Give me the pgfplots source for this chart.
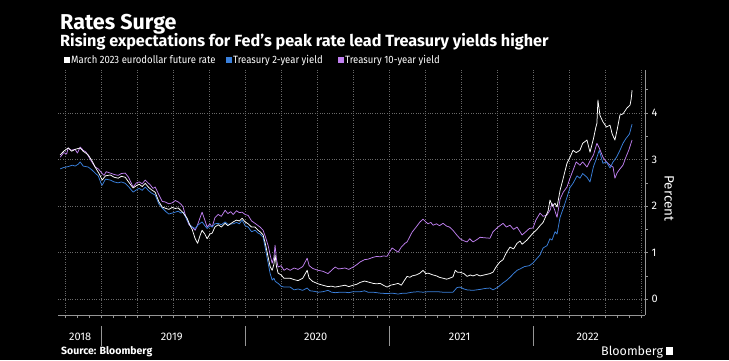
\documentclass[border=0pt]{standalone}
\usepackage{pgfplots}
\pgfplotsset{compat=1.18}
\usepackage{fontspec}
\setmainfont{Fira Sans}
\definecolor{tblue}{RGB}{58,128,220}
\definecolor{tpurple}{RGB}{192,128,240}
\definecolor{gridc}{RGB}{105,105,105}
\definecolor{axisc}{RGB}{150,150,150}
\begin{document}
\begin{tikzpicture}
\fill[black,use as bounding box] (0pt,0pt) rectangle (729pt,360pt);
% titles
\node[anchor=base west,inner sep=0,white,font=\bfseries\fontsize{21.5}{24}\selectfont] at (60pt,331pt) {Rates Surge};
\node[anchor=base west,inner sep=0,white,font=\bfseries\fontsize{16.2}{18}\selectfont] at (60pt,314pt) {Rising expectations for Fed's peak rate lead Treasury yields higher};
% legend
\node[anchor=base west,inner sep=0,white,font=\fontsize{10.6}{12}\selectfont] at (64pt,297pt) {\scalebox{0.9}[1]{\textcolor{white}{\rule{6pt}{6pt}}\,March 2023 eurodollar future rate}};
\node[anchor=base west,inner sep=0,white,font=\fontsize{10.6}{12}\selectfont] at (226pt,297pt) {\scalebox{0.9}[1]{\textcolor{tblue}{\rule{6pt}{6pt}}\,Treasury 2-year yield}};
\node[anchor=base west,inner sep=0,white,font=\fontsize{10.6}{12}\selectfont] at (338pt,297pt) {\scalebox{0.9}[1]{\textcolor{tpurple}{\rule{6pt}{6pt}}\,Treasury 10-year yield}};
% footer
\node[anchor=base west,inner sep=0,white,font=\bfseries\fontsize{10.5}{12}\selectfont] at (61pt,6pt) {Source: Bloomberg};
\node[anchor=base west,inner sep=0,white,font=\fontsize{12.5}{14}\selectfont] at (601pt,5pt) {Bloomberg \textcolor{white}{\rule{7pt}{8pt}}};
\begin{axis}[
  at={(58pt,45pt)}, anchor=south west,
  scale only axis, width=587pt, height=245pt,
  xmin=2018.70, xmax=2022.778,
  ymin=-0.34, ymax=4.925,
  clip=false,
  axis x line*=bottom, axis y line*=right,
  axis line style={axisc, line width=0.8pt},
  tick style={axisc, line width=0.6pt},
  tick align=outside,
  major tick length=3pt, minor tick length=3pt,
  xtick={2018.75,2019,2019.25,2019.5,2019.75,2020,2020.25,2020.5,2020.75,2021,2021.25,2021.5,2021.75,2022,2022.25,2022.5,2022.75},
  xticklabels={},
  minor x tick num=2,
  extra x ticks={2018.854,2019.49,2020.49,2021.49,2022.38},
  extra x tick labels={2018,2019,2020,2021,2022},
  extra x tick style={major tick length=0pt, xmajorgrids=false, xticklabel style={yshift=-14pt}},
  ytick={0,1,2,3,4},
  minor ytick={0.5,1.5,2.5,3.5,4.5},
  xmajorgrids, ymajorgrids,
  major grid style={gridc, dotted, line width=0.6pt},
  ticklabel style={white, font=\fontsize{11}{13}\selectfont},
  /pgf/number format/assume math mode=true,
  ylabel={Percent},
  ylabel style={white, rotate=180, font=\fontsize{13.5}{15}\selectfont, xshift=6pt},
  every axis plot/.append style={line width=0.75pt, line join=round},
]
% separators between years
\foreach \yr in {2019,2020,2021,2022}{
  \edef\tmp{\noexpand\draw[axisc, line width=0.6pt] ([yshift=-11pt]axis cs:\yr,-0.34) -- ([yshift=-31pt]axis cs:\yr,-0.34);}\tmp
}
% Treasury 10-year
\addplot[tpurple] coordinates {
(2018.715,3.05)(2018.740,3.15)(2018.760,3.12)(2018.771,3.25)(2018.790,3.20)(2018.819,3.22)(2018.835,3.14)(2018.854,3.27)(2018.875,3.20)(2018.895,3.16)
(2018.910,3.08)(2018.935,2.95)(2018.958,2.84)(2018.980,2.80)(2019.007,2.70)(2019.020,2.66)(2019.035,2.74)(2019.063,2.71)(2019.090,2.68)(2019.118,2.66)
(2019.140,2.70)(2019.167,2.71)(2019.190,2.62)(2019.222,2.41)(2019.245,2.50)(2019.264,2.52)(2019.285,2.48)(2019.306,2.56)(2019.325,2.50)(2019.340,2.46)
(2019.360,2.38)(2019.375,2.41)(2019.400,2.25)(2019.424,2.10)(2019.444,2.09)(2019.470,2.05)(2019.493,2.07)(2019.515,2.12)(2019.535,2.09)(2019.555,2.04)
(2019.569,1.98)(2019.590,1.75)(2019.610,1.60)(2019.632,1.55)(2019.653,1.48)(2019.670,1.60)(2019.688,1.76)(2019.701,1.87)(2019.720,1.70)(2019.736,1.55)
(2019.755,1.62)(2019.771,1.55)(2019.790,1.75)(2019.813,1.82)(2019.835,1.78)(2019.861,1.91)(2019.880,1.84)(2019.900,1.88)(2019.917,1.82)(2019.940,1.90)
(2019.960,1.86)(2019.979,1.87)(2020.000,1.82)(2020.021,1.80)(2020.045,1.68)(2020.069,1.63)(2020.090,1.58)(2020.104,1.55)(2020.125,1.48)(2020.140,1.35)
(2020.160,1.15)(2020.174,0.95)(2020.188,0.77)(2020.200,0.90)(2020.208,1.16)(2020.218,0.85)(2020.229,0.69)(2020.250,0.72)(2020.270,0.62)(2020.290,0.66)
(2020.313,0.62)(2020.340,0.67)(2020.368,0.64)(2020.400,0.70)(2020.431,0.88)(2020.445,0.72)(2020.470,0.66)(2020.507,0.62)(2020.540,0.60)(2020.576,0.55)
(2020.600,0.62)(2020.625,0.69)(2020.650,0.65)(2020.694,0.67)(2020.720,0.64)(2020.750,0.69)(2020.775,0.74)(2020.799,0.80)(2020.830,0.85)(2020.854,0.86)
(2020.889,0.90)(2020.915,0.92)(2020.938,0.91)(2020.960,0.93)(2020.986,0.92)(2021.005,1.02)(2021.021,1.10)(2021.040,1.06)(2021.063,1.01)(2021.085,1.12)
(2021.110,1.20)(2021.125,1.23)(2021.145,1.35)(2021.160,1.44)(2021.188,1.55)(2021.205,1.62)(2021.215,1.66)(2021.236,1.72)(2021.255,1.66)(2021.271,1.62)
(2021.290,1.65)(2021.306,1.59)(2021.330,1.62)(2021.350,1.58)(2021.375,1.63)(2021.400,1.57)(2021.420,1.55)(2021.444,1.48)(2021.470,1.38)(2021.493,1.30)
(2021.515,1.26)(2021.542,1.23)(2021.560,1.30)(2021.583,1.23)(2021.610,1.28)(2021.632,1.33)(2021.660,1.32)(2021.701,1.31)(2021.722,1.45)(2021.757,1.55)
(2021.792,1.63)(2021.815,1.55)(2021.840,1.59)(2021.865,1.50)(2021.889,1.55)(2021.910,1.45)(2021.924,1.38)(2021.950,1.45)(2021.975,1.52)(2022.000,1.53)
(2022.020,1.70)(2022.049,1.85)(2022.070,1.78)(2022.097,1.81)(2022.120,1.92)(2022.132,2.06)(2022.150,1.92)(2022.167,1.76)(2022.188,2.15)(2022.210,2.30)
(2022.236,2.41)(2022.257,2.60)(2022.278,2.77)(2022.300,2.95)(2022.326,2.88)(2022.345,2.95)(2022.375,2.84)(2022.396,2.97)(2022.420,3.10)(2022.444,3.35)
(2022.460,3.25)(2022.486,3.05)(2022.510,2.95)(2022.535,2.88)(2022.556,2.84)(2022.569,2.60)(2022.585,2.72)(2022.604,2.80)(2022.625,2.88)(2022.645,3.05)
(2022.665,3.20)(2022.688,3.42)
};
% Treasury 2-year
\addplot[tblue] coordinates {
(2018.715,2.80)(2018.740,2.83)(2018.771,2.85)(2018.800,2.88)(2018.819,2.86)(2018.840,2.90)(2018.854,2.95)(2018.875,2.86)(2018.910,2.84)(2018.935,2.78)
(2018.958,2.71)(2018.980,2.65)(2019.000,2.48)(2019.007,2.45)(2019.030,2.58)(2019.063,2.56)(2019.090,2.52)(2019.118,2.50)(2019.140,2.52)(2019.167,2.49)
(2019.190,2.42)(2019.222,2.30)(2019.245,2.35)(2019.264,2.38)(2019.285,2.34)(2019.306,2.41)(2019.330,2.33)(2019.350,2.28)(2019.375,2.24)(2019.400,2.05)
(2019.424,1.96)(2019.450,1.88)(2019.470,1.83)(2019.493,1.85)(2019.515,1.87)(2019.535,1.89)(2019.555,1.85)(2019.569,1.87)(2019.597,1.70)(2019.615,1.60)
(2019.632,1.55)(2019.653,1.52)(2019.675,1.60)(2019.701,1.66)(2019.720,1.58)(2019.736,1.52)(2019.755,1.58)(2019.771,1.55)(2019.790,1.62)(2019.813,1.63)
(2019.835,1.60)(2019.861,1.66)(2019.880,1.61)(2019.917,1.62)(2019.940,1.65)(2019.960,1.62)(2019.979,1.70)(2020.000,1.58)(2020.021,1.55)(2020.045,1.45)
(2020.069,1.48)(2020.090,1.42)(2020.104,1.40)(2020.125,1.33)(2020.140,1.10)(2020.160,0.77)(2020.174,0.55)(2020.188,0.41)(2020.200,0.45)(2020.210,0.38)
(2020.229,0.34)(2020.250,0.28)(2020.270,0.26)(2020.313,0.26)(2020.340,0.20)(2020.368,0.22)(2020.400,0.19)(2020.431,0.24)(2020.451,0.18)(2020.480,0.17)
(2020.507,0.15)(2020.540,0.16)(2020.576,0.19)(2020.600,0.15)(2020.625,0.14)(2020.660,0.15)(2020.694,0.15)(2020.720,0.14)(2020.750,0.16)(2020.799,0.16)
(2020.830,0.18)(2020.854,0.15)(2020.889,0.15)(2020.938,0.13)(2020.986,0.12)(2021.021,0.13)(2021.063,0.11)(2021.097,0.13)(2021.125,0.13)(2021.160,0.15)
(2021.200,0.16)(2021.236,0.15)(2021.271,0.16)(2021.306,0.16)(2021.340,0.16)(2021.375,0.15)(2021.410,0.15)(2021.444,0.15)(2021.472,0.25)(2021.493,0.26)
(2021.520,0.22)(2021.542,0.20)(2021.583,0.19)(2021.632,0.21)(2021.667,0.23)(2021.701,0.24)(2021.722,0.20)(2021.757,0.26)(2021.792,0.35)(2021.815,0.40)
(2021.840,0.47)(2021.865,0.55)(2021.889,0.62)(2021.910,0.65)(2021.940,0.70)(2021.975,0.72)(2022.000,0.78)(2022.020,0.85)(2022.049,0.95)(2022.070,1.10)
(2022.097,1.15)(2022.118,1.30)(2022.132,1.27)(2022.153,1.45)(2022.167,1.40)(2022.188,1.76)(2022.210,1.95)(2022.236,2.19)(2022.257,2.40)(2022.278,2.49)
(2022.306,2.65)(2022.326,2.60)(2022.345,2.70)(2022.375,2.62)(2022.396,2.52)(2022.420,2.85)(2022.444,3.05)(2022.460,3.20)(2022.486,2.92)(2022.510,2.95)
(2022.535,2.82)(2022.556,2.95)(2022.580,3.05)(2022.604,3.20)(2022.625,3.35)(2022.645,3.45)(2022.670,3.55)(2022.688,3.76)
};
% March 2023 eurodollar future rate
\addplot[white] coordinates {
(2018.715,3.10)(2018.740,3.18)(2018.771,3.25)(2018.795,3.18)(2018.819,3.22)(2018.854,3.25)(2018.875,3.18)(2018.910,3.10)(2018.935,2.98)(2018.958,2.84)
(2018.985,2.70)(2019.007,2.56)(2019.030,2.65)(2019.063,2.67)(2019.090,2.62)(2019.118,2.60)(2019.140,2.64)(2019.167,2.62)(2019.190,2.52)(2019.222,2.39)
(2019.245,2.44)(2019.264,2.47)(2019.285,2.42)(2019.306,2.49)(2019.330,2.40)(2019.350,2.35)(2019.375,2.30)(2019.400,2.10)(2019.424,1.98)(2019.450,1.95)
(2019.470,1.93)(2019.493,1.97)(2019.515,1.95)(2019.535,1.96)(2019.555,1.90)(2019.569,1.86)(2019.597,1.74)(2019.615,1.60)(2019.632,1.50)(2019.653,1.30)
(2019.670,1.20)(2019.688,1.38)(2019.701,1.48)(2019.720,1.40)(2019.736,1.30)(2019.755,1.40)(2019.771,1.42)(2019.790,1.55)(2019.813,1.60)(2019.835,1.55)
(2019.861,1.63)(2019.880,1.58)(2019.917,1.66)(2019.940,1.70)(2019.960,1.68)(2019.979,1.74)(2020.000,1.66)(2020.021,1.62)(2020.045,1.55)(2020.069,1.55)
(2020.090,1.48)(2020.104,1.45)(2020.125,1.38)(2020.140,1.20)(2020.160,0.90)(2020.174,0.70)(2020.188,0.62)(2020.200,0.75)(2020.208,0.95)(2020.218,0.70)
(2020.229,0.56)(2020.250,0.52)(2020.270,0.45)(2020.313,0.45)(2020.340,0.42)(2020.368,0.40)(2020.400,0.45)(2020.431,0.62)(2020.445,0.45)(2020.470,0.38)
(2020.507,0.33)(2020.540,0.30)(2020.576,0.27)(2020.600,0.28)(2020.625,0.26)(2020.660,0.28)(2020.694,0.30)(2020.720,0.27)(2020.750,0.30)(2020.775,0.32)
(2020.799,0.36)(2020.830,0.39)(2020.854,0.37)(2020.889,0.34)(2020.915,0.33)(2020.938,0.34)(2020.960,0.30)(2020.986,0.26)(2021.010,0.30)(2021.040,0.32)
(2021.063,0.34)(2021.085,0.30)(2021.110,0.42)(2021.125,0.49)(2021.145,0.47)(2021.160,0.50)(2021.188,0.52)(2021.215,0.56)(2021.236,0.62)(2021.255,0.55)
(2021.271,0.56)(2021.306,0.52)(2021.330,0.50)(2021.350,0.47)(2021.375,0.45)(2021.400,0.43)(2021.420,0.45)(2021.444,0.48)(2021.460,0.62)(2021.475,0.58)
(2021.493,0.58)(2021.520,0.55)(2021.542,0.49)(2021.565,0.52)(2021.583,0.50)(2021.610,0.53)(2021.632,0.50)(2021.660,0.52)(2021.701,0.55)(2021.722,0.58)
(2021.745,0.70)(2021.770,0.80)(2021.792,0.85)(2021.815,1.00)(2021.840,1.12)(2021.865,1.08)(2021.889,1.20)(2021.910,1.25)(2021.924,1.18)(2021.958,1.27)
(2021.980,1.35)(2022.000,1.42)(2022.028,1.50)(2022.049,1.58)(2022.070,1.65)(2022.083,1.74)(2022.105,1.90)(2022.118,2.13)(2022.135,2.00)(2022.153,2.06)
(2022.167,1.98)(2022.188,2.34)(2022.210,2.60)(2022.236,2.92)(2022.257,3.05)(2022.278,3.20)(2022.300,3.15)(2022.326,3.20)(2022.345,3.35)(2022.375,3.42)
(2022.396,3.16)(2022.420,3.45)(2022.437,3.70)(2022.444,3.78)(2022.451,4.28)(2022.465,3.95)(2022.486,3.81)(2022.510,3.70)(2022.535,3.74)(2022.550,3.55)
(2022.569,3.42)(2022.585,3.65)(2022.604,3.96)(2022.625,3.98)(2022.653,4.11)(2022.674,4.17)(2022.682,4.30)(2022.688,4.49)
};
\end{axis}
\end{tikzpicture}
\end{document}
